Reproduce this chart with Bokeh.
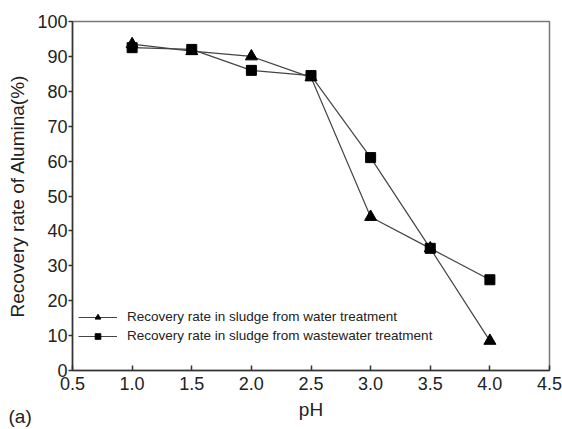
from bokeh.plotting import figure
from bokeh.models import Range1d, FixedTicker, Label, Legend, LegendItem
from bokeh.embed import file_html
from bokeh.resources import INLINE

ph = [1.0, 1.5, 2.0, 2.5, 3.0, 3.5, 4.0]
water = [93.5, 91.5, 90.0, 84.0, 44.0, 35.0, 8.5]
wastewater = [92.5, 92.0, 86.0, 84.5, 61.0, 35.0, 26.0]
x_ticks = [0.5, 1.0, 1.5, 2.0, 2.5, 3.0, 3.5, 4.0, 4.5]
y_ticks = [0, 10, 20, 30, 40, 50, 60, 70, 80, 90, 100]
label_water = "Recovery rate in sludge from water treatment"
label_waste = "Recovery rate in sludge from wastewater treatment"
panel_label = "(a)"

FONT = "Liberation Sans"

p = figure(width=562, height=429, output_backend="svg", toolbar_location=None,
           x_range=Range1d(0.5, 4.5), y_range=Range1d(0, 100),
           min_border_left=72, min_border_right=13, min_border_top=16, min_border_bottom=59)
p.xgrid.visible = False
p.ygrid.visible = False
p.outline_line_color = "#777777"
p.outline_line_width = 1.5
p.background_fill_color = "white"
p.border_fill_color = "white"

for ax in (p.xaxis[0], p.yaxis[0]):
    ax.axis_line_color = "#333333"
    ax.axis_line_width = 1.5
    ax.major_tick_line_color = "#333333"
    ax.major_tick_line_width = 1.5
    ax.minor_tick_line_color = None
    ax.major_label_text_font = FONT
    ax.major_label_text_font_size = "18px"
    ax.major_label_text_color = "#222222"
    ax.axis_label_text_font = FONT
    ax.axis_label_text_font_size = "19px"
    ax.axis_label_text_font_style = "normal"
    ax.axis_label_text_color = "#222222"

p.xaxis.ticker = FixedTicker(ticks=x_ticks)
p.xaxis.major_label_overrides = {t: f"{t:.1f}" for t in x_ticks}
p.xaxis.major_tick_in = 5
p.xaxis.major_tick_out = 0
p.xaxis.major_label_standoff = 6
p.xaxis.axis_label = "pH"
p.xaxis.axis_label_standoff = 6

p.yaxis.ticker = FixedTicker(ticks=y_ticks)
p.yaxis.major_tick_in = 0
p.yaxis.major_tick_out = 4
p.yaxis.major_label_standoff = 1
p.yaxis.axis_label = "Recovery rate of Alumina(%)"
p.yaxis.axis_label_standoff = 6

l1 = p.line(ph, water, line_color="#444444", line_width=1.2)
s1 = p.scatter(ph, water, marker="triangle", size=12, fill_color="black", line_color="black")
l2 = p.line(ph, wastewater, line_color="#444444", line_width=1.2)
s2 = p.scatter(ph, wastewater, marker="square", size=10, fill_color="black", line_color="black")

legend = Legend(items=[LegendItem(label=label_water, renderers=[l1, s1]),
                       LegendItem(label=label_waste, renderers=[l2, s2])],
                location=(6, 27), border_line_color=None, background_fill_alpha=0,
                label_text_font=FONT, label_text_font_size="13.5px",
                label_text_color="#222222", glyph_width=39, glyph_height=14,
                label_height=14, spacing=4, padding=5, margin=0, label_standoff=10)
p.add_layout(legend)

p.add_layout(Label(x=-64, y=-405, x_units="screen", y_units="screen", text=panel_label,
                   text_font=FONT, text_font_size="19px", text_color="#222222"), "above")

open("out.html", "w").write(file_html(p, INLINE))
